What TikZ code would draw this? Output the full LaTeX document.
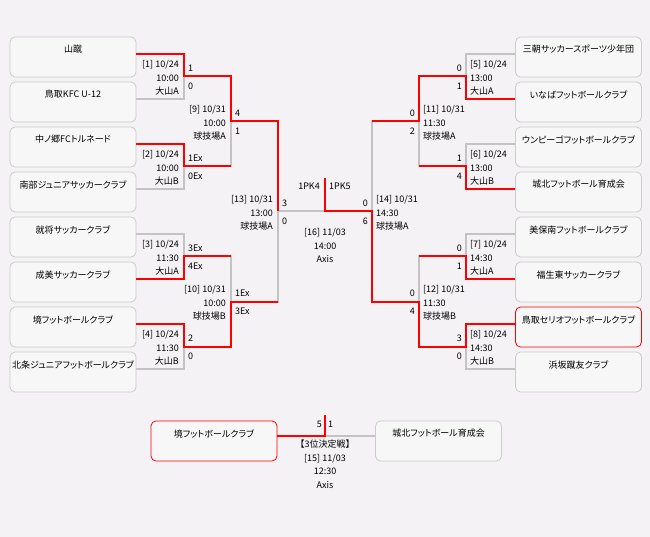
\documentclass[tikz,border=0pt]{standalone}
\usepackage{fontspec}
\newfontfamily\jpfont{Noto Sans CJK JP}
\newfontfamily\jpnamefont[RawFeature=+palt]{Noto Sans CJK JP}
\definecolor{pagebg}{HTML}{F4F2F4}
\definecolor{boxfill}{HTML}{F8F7F8}
\definecolor{boxline}{HTML}{CCCCCC}
\definecolor{lostline}{HTML}{C3C3C3}
\definecolor{wonline}{HTML}{FF0000}

\begin{document}
\begin{tikzpicture}[x=1pt,y=-1pt,font=\jpfont\fontsize{9}{13.5}\selectfont,
	team/.style={draw=#1,fill=boxfill,line width=0.8pt,rounded corners=5pt,minimum width=126pt,minimum height=40pt,inner sep=0pt},
	team/.default=boxline,
	teamname/.style={anchor=north,inner sep=0pt,yshift=-8.5pt,font=\jpnamefont\fontsize{9}{10}\selectfont},
	lost/.style={draw=lostline,line width=2pt},
	won/.style={draw=wonline,line width=2pt},
	score/.style={inner sep=0pt},
	matchinfo/.style={inner sep=0pt}]
	\fill[pagebg] (0,0) rectangle (650,537);
	% teams
	\foreach \i/\c/\t in {1/boxline/山蹴,2/boxline/鳥取KFC U-12,3/boxline/中ノ郷FCトルネード,4/boxline/南部ジュニアサッカークラブ,5/boxline/就将サッカークラブ,6/boxline/成美サッカークラブ,7/boxline/境フットボールクラブ,8/boxline/北条ジュニアフットボールクラブ}
	{
		\node[team=\c,label={[teamname]north:\t}] (L\i) at (73,{12+45*\i}) {};
		\coordinate (La\i) at ([yshift=3pt]L\i.east);
	}
	\foreach \i/\c/\t in {1/boxline/三朝サッカースポーツ少年団,2/boxline/いなばフットボールクラブ,3/boxline/ウンピーゴフットボールクラブ,4/boxline/城北フットボール育成会,5/boxline/美保南フットボールクラブ,6/boxline/福生東サッカークラブ,7/wonline/鳥取セリオフットボールクラブ,8/boxline/浜坂蹴友クラブ}
	{
		\node[team=\c,label={[teamname]north:\t}] (R\i) at (578.5,{12+45*\i}) {};
		\coordinate (Ra\i) at ([yshift=3pt]R\i.west);
	}
	\node[team=wonline,label={[teamname]north:境フットボールクラブ}] (T1) at (214,441) {};
	\node[team,label={[teamname]north:城北フットボール育成会}] (T2) at (438.5,441) {};
	\coordinate (Ta1) at ([yshift=5pt]T1.east);
	\coordinate (Ta2) at ([yshift=5pt]T2.west);
	% matches
	\foreach \m/\x/\y in {m1/184/76.5,m2/184/166.5,m3/184/256.5,m4/184/346.5,m9/231/121.5,m10/231/301.5,m13/278/211.5,m5/466/76.5,m6/466/166.5,m7/466/256.5,m8/466/346.5,m11/419/121.5,m12/419/301.5,m14/372/211.5,m16/325/211.5,m15/325/436}
		\coordinate (\m) at (\x,\y);
	\coordinate (champ) at (325,178);
	\coordinate (third) at (325,415);
	\foreach \a/\b/\m in {La1/La2/m1,La3/La4/m2,La5/La6/m3,La7/La8/m4,m1/m2/m9,m3/m4/m10,m9/m10/m13,Ra1/Ra2/m5,Ra3/Ra4/m6,Ra5/Ra6/m7,Ra7/Ra8/m8,m5/m6/m11,m7/m8/m12,m11/m12/m14}
		\draw[lost] (\a) -| (\m) (\b) -| (\m);
	\draw[lost] (m13) -- (m16) (Ta2) -- (m15);
	% winners
	\draw[won] (La1) -| (m1) -| (m9) -| (m13);
	\draw[won] (La3) -| (m2) -- (m2 -| m9);
	\draw[won] (La6) -| (m3) -- (m3 -| m10);
	\draw[won] (La7) -| (m4) -| (m10) -- (m10 -| m13);
	\draw[won] (Ra2) -| (m5) -| (m11) -- (m11 -| m14);
	\draw[won] (Ra4) -| (m6) -- (m6 -| m11);
	\draw[won] (Ra6) -| (m7) -- (m7 -| m12);
	\draw[won] (Ra7) -| (m8) -| (m12) -| (m14) -- (m16) -- (champ);
	\draw[won] (Ta1) -- (m15) -- (third);
	% scores
	\foreach \m/\s/\t in {m1/1/0,m2/1Ex/0Ex,m3/3Ex/4Ex,m4/2/0,m9/4/1,m10/1Ex/3Ex,m13/3/0}
	{
		\node[score,anchor=west] (\m-a) at ([xshift=4pt,yshift=8pt]\m) {\s};
		\node[score,anchor=west] (\m-b) at ([xshift=4pt,yshift=-10pt]\m) {\t};
	}
	\foreach \m/\s/\t in {m5/0/1,m6/1/4,m7/0/1,m8/3/0,m11/0/2,m12/0/4,m14/0/6}
	{
		\node[score,anchor=east] (\m-a) at ([xshift=-4pt,yshift=8pt]\m) {\s};
		\node[score,anchor=east] (\m-b) at ([xshift=-4pt,yshift=-10pt]\m) {\t};
	}
	\node[score,anchor=east] (m16-a) at ([xshift=-5pt,yshift=25.5pt]m16) {1PK4};
	\node[score,anchor=west] (m16-b) at ([xshift=4pt,yshift=25.5pt]m16) {1PK5};
	\node[score,anchor=east] (m15-a) at ([xshift=-3pt,yshift=12pt]m15) {5};
	\node[score,anchor=west] (m15-b) at ([xshift=3pt,yshift=12pt]m15) {1};
	% match info
	\foreach \m/\t in {m1/{[1] 10/24\\10:00\\大山A},m2/{[2] 10/24\\10:00\\大山B},m3/{[3] 10/24\\11:30\\大山A},m4/{[4] 10/24\\11:30\\大山B},m9/{[9] 10/31\\10:00\\球技場A},m10/{[10] 10/31\\10:00\\球技場B},m13/{[13] 10/31\\13:00\\球技場A}}
		\node[matchinfo,anchor=east,align=right] (\m-info) at ([xshift=-5pt,yshift=-1.5pt]\m) {\t};
	\foreach \m/\t in {m5/{[5] 10/24\\13:00\\大山A},m6/{[6] 10/24\\13:00\\大山B},m7/{[7] 10/24\\14:30\\大山A},m8/{[8] 10/24\\14:30\\大山B},m11/{[11] 10/31\\11:30\\球技場A},m12/{[12] 10/31\\11:30\\球技場B},m14/{[14] 10/31\\14:30\\球技場A}}
		\node[matchinfo,anchor=west,align=left] (\m-info) at ([xshift=4pt,yshift=-1.5pt]\m) {\t};
	\node[matchinfo,align=center] (m16-info) at ([yshift=-34pt]m16) {[16] 11/03\\14:00\\Axis};
	\node[matchinfo,align=center] (m15-info) at ([yshift=-28pt]m15) {【3位決定戦】\\{}[15] 11/03\\12:30\\Axis};
\end{tikzpicture}
\end{document}
